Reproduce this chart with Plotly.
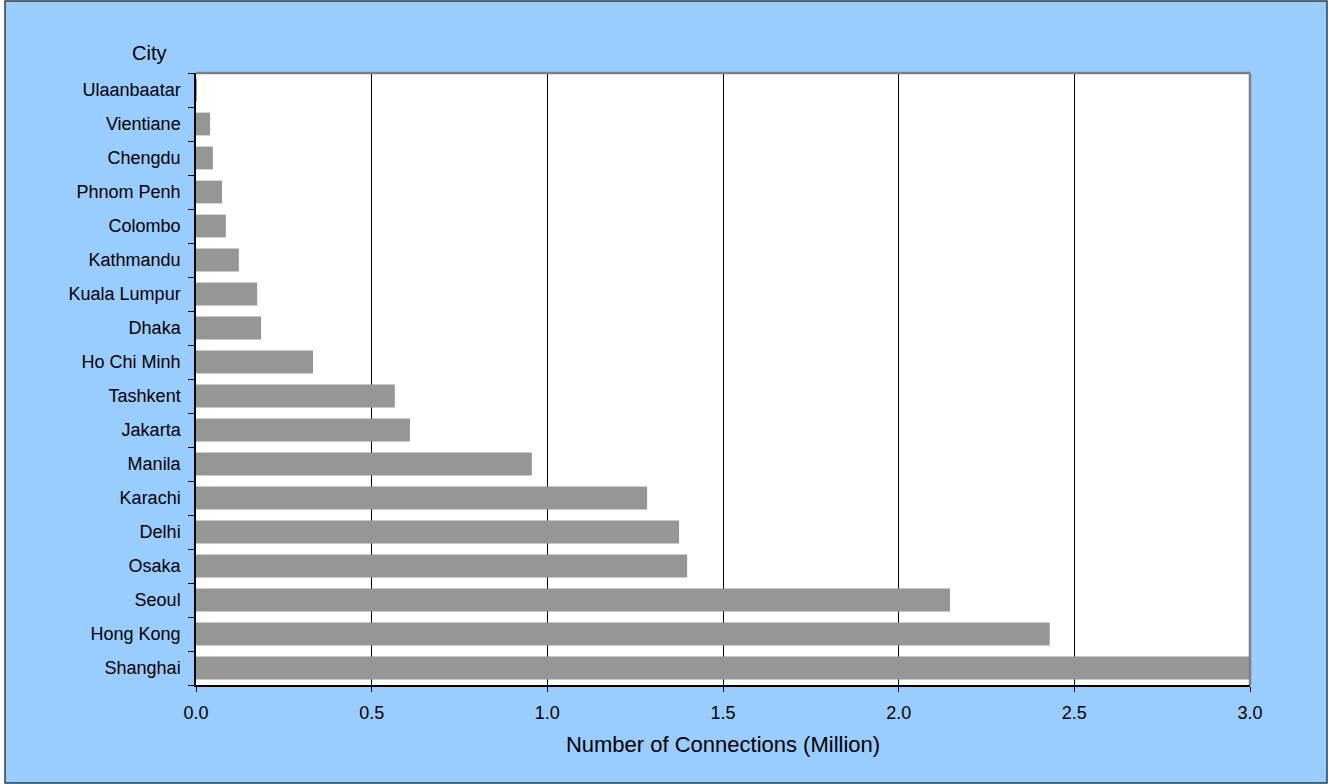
import plotly.graph_objects as go

cities = ["Shanghai", "Hong Kong", "Seoul", "Osaka", "Delhi", "Karachi", "Manila",
          "Jakarta", "Tashkent", "Ho Chi Minh", "Dhaka", "Kuala Lumpur", "Kathmandu",
          "Colombo", "Phnom Penh", "Chengdu", "Vientiane", "Ulaanbaatar"]
connections = [3.0, 2.43, 2.146, 1.398, 1.375, 1.284, 0.956,
               0.609, 0.566, 0.333, 0.185, 0.174, 0.122,
               0.085, 0.074, 0.048, 0.040, 0.002]
x_ticks = [0.0, 0.5, 1.0, 1.5, 2.0, 2.5, 3.0]
x_tick_labels = ["0.0", "0.5", "1.0", "1.5", "2.0", "2.5", "3.0"]

W, H = 1328, 784
L, R, T, B = 196, 78, 73, 99
pw, ph = W - L - R, H - T - B

fig = go.Figure(go.Bar(
    x=connections, y=cities, orientation="h",
    marker=dict(color="#969696", line=dict(width=0)),
    hoverinfo="x+y",
))

fig.update_layout(
    width=W, height=H,
    margin=dict(l=L, r=R, t=T, b=B, pad=0),
    paper_bgcolor="white",
    plot_bgcolor="white",
    bargap=0.33,
    showlegend=False,
    font=dict(family="Liberation Sans, Arial, sans-serif", color="black", size=18),
    xaxis=dict(
        range=[0, 3.0], tickvals=x_ticks, ticktext=x_tick_labels,
        showgrid=True, gridcolor="black", gridwidth=1,
        showline=True, linecolor="black", linewidth=1.5,
        ticks="outside", ticklen=5, tickcolor="black", tickwidth=1,
        tickfont=dict(size=18), ticklabelstandoff=6,
        zeroline=False, fixedrange=True,
        title=dict(text="Number of Connections (Million)", font=dict(size=22), standoff=14),
    ),
    yaxis=dict(
        type="category", categoryorder="array", categoryarray=cities,
        showgrid=False, showline=True, linecolor="black", linewidth=1.5,
        ticks="outside", ticklen=6, tickcolor="black", tickwidth=1,
        tickson="boundaries", tickfont=dict(size=18), ticklabelstandoff=10,
        zeroline=False, fixedrange=True,
    ),
    shapes=[
        dict(type="rect", xref="paper", yref="paper",
             x0=(5 - L) / pw, x1=(W - 1 - L) / pw,
             y0=-(B - 1) / ph, y1=1 + (T - 1) / ph,
             fillcolor="#99CCFF", line=dict(color="#2e3b4e", width=1.5), layer="below"),
        dict(type="rect", xref="paper", yref="paper", x0=0, x1=1, y0=0, y1=1,
             fillcolor="white", line=dict(width=0), layer="below"),
        dict(type="line", xref="paper", yref="paper", x0=0, x1=1, y0=1, y1=1,
             line=dict(color="#808080", width=2.5), layer="above"),
        dict(type="line", xref="paper", yref="paper", x0=1, x1=1, y0=0, y1=1,
             line=dict(color="#808080", width=2.5), layer="above"),
    ],
    annotations=[
        dict(text="City", xref="paper", yref="paper",
             x=(149 - L) / pw, y=1 + (T - 53) / ph, xanchor="center", yanchor="middle",
             showarrow=False, font=dict(size=20)),
    ],
)

fig.write_html(
    "out.html",
    config={"displayModeBar": False},
    post_script="document.body.style.margin='0';document.body.style.overflow='hidden';",
)
